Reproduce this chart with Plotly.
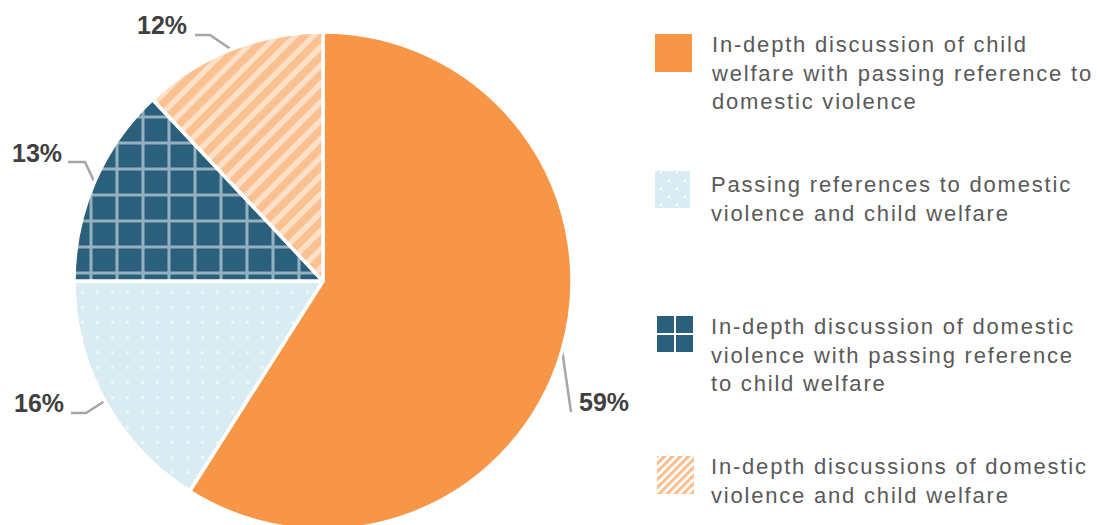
import numpy as np
import plotly.graph_objects as go

# Figure canvas (pixel units for the helper axis that carries legend swatches and leader lines)
W, H = 1097, 562

categories = [
    "In-depth discussion of child welfare with passing reference to domestic violence",
    "Passing references to domestic violence and child welfare",
    "In-depth discussion of domestic violence with passing reference to child welfare",
    "In-depth discussions of domestic violence and child welfare",
]
shares = [59, 16, 13, 12]
legend_lines = [
    ["In-depth discussion of child", "welfare with passing reference to", "domestic violence"],
    ["Passing references to domestic", "violence and child welfare"],
    ["In-depth discussion of domestic", "violence with passing reference", "to child welfare"],
    ["In-depth discussions of domestic", "violence and child welfare"],
]

# Styling
colors = ["#F79646", "#DAECF3", "#2A607C", "#FAC090"]
pattern_shapes = ["", ".", "+", "/"]
pattern_sizes = [10, 15, 26, 13]
pattern_solidity = [0.3, 0.045, 0.22, 0.42]
LEADER = "#A6A6A6"
LABEL_COLOR = "#404040"
TEXT_COLOR = "#595959"
FONT = "Liberation Sans, Arial, sans-serif"

# Pie geometry
CX, CY, R = 323, 281, 249

# Label placement: elbow of leader line, end of leader line, text anchor
label_elbow = [(571, 412), (86, 413), (85, 162), (210, 35)]
label_end = [(571, 412), (71, 413), (68, 162), (195, 35)]
label_text = [(577, 402, "left"), (66, 403, "right"), (64, 153, "right"), (189, 25, "right")]

# Legend placement
swatch_boxes = [(655, 34, 692, 72), (655, 171, 690, 208), (657, 316, 693, 352), (657, 456, 694, 494)]
legend_text_mid = [73, 198.5, 355, 480.5]
LEGEND_X = 709

fig = go.Figure()

fig.add_trace(go.Pie(
    values=shares,
    labels=categories,
    sort=False,
    direction="clockwise",
    rotation=0,
    textinfo="none",
    hoverinfo="label+percent",
    showlegend=False,
    domain=dict(x=[(CX - R) / W, (CX + R) / W], y=[0, 1]),
    marker=dict(
        colors=colors,
        line=dict(color="white", width=3.5),
        pattern=dict(
            shape=pattern_shapes,
            fillmode="overlay",
            bgcolor=colors,
            fgcolor="white",
            size=pattern_sizes,
            solidity=pattern_solidity,
        ),
    ),
))

# Leader lines from the middle of each slice's arc
total = float(sum(shares))
cum = np.concatenate([[0.0], np.cumsum(shares)]) / total
mid_deg = (cum[:-1] + cum[1:]) / 2 * 360.0
annotations = []
for i, v in enumerate(shares):
    th = np.deg2rad(mid_deg[i])
    ax_, ay_ = CX + R * np.sin(th), CY - R * np.cos(th)
    xs = [ax_, label_elbow[i][0], label_end[i][0]]
    ys = [ay_, label_elbow[i][1], label_end[i][1]]
    fig.add_trace(go.Scatter(
        x=xs, y=ys, mode="lines", line=dict(color=LEADER, width=2.5),
        hoverinfo="skip", showlegend=False, xaxis="x", yaxis="y",
    ))

# Legend text (first four annotations)
for lines, ym in zip(legend_lines, legend_text_mid):
    annotations.append(dict(
        x=LEGEND_X, y=ym, xref="x", yref="y", xanchor="left", yanchor="middle",
        text="<br>".join(lines), showarrow=False, align="left",
        font=dict(family=FONT, size=22, color=TEXT_COLOR),
    ))

# Percentage labels
for i, v in enumerate(shares):
    tx, ty, anc = label_text[i]
    annotations.append(dict(
        x=tx, y=ty, xref="x", yref="y", xanchor=anc, yanchor="middle",
        text=f"<b>{v}%</b>", showarrow=False,
        font=dict(family=FONT, size=25, color=LABEL_COLOR),
    ))

# Legend swatches
shapes = []
for i, (x0, y0, x1, y1) in enumerate(swatch_boxes):
    shapes.append(dict(type="rect", xref="x", yref="y", x0=x0, y0=y0, x1=x1, y1=y1,
                       fillcolor=colors[i], line=dict(width=0), layer="above"))
    if pattern_shapes[i] == ".":
        row = 0
        yy = y0 + 2
        while yy < y1 - 1:
            off = 6 if row % 2 == 0 else -2
            xx = x0 + off
            while xx < x1 - 1:
                if xx > x0 + 1:
                    shapes.append(dict(type="rect", xref="x", yref="y",
                                       x0=xx - 0.9, x1=xx + 0.9, y0=yy - 0.9, y1=yy + 0.9,
                                       fillcolor="white", line=dict(width=0), layer="above"))
                xx += 16
            yy += 8
            row += 1
    elif pattern_shapes[i] == "+":
        xm, ymid = (x0 + x1) / 2, (y0 + y1) / 2
        shapes.append(dict(type="line", xref="x", yref="y", x0=xm, x1=xm, y0=y0, y1=y1,
                           line=dict(color="white", width=2), layer="above"))
        shapes.append(dict(type="line", xref="x", yref="y", x0=x0, x1=x1, y0=ymid, y1=ymid,
                           line=dict(color="white", width=2), layer="above"))
    elif pattern_shapes[i] == "/":
        c = x0 + y0 + 4
        while c < x1 + y1:
            xs0 = max(x0, c - y1)
            xs1 = min(x1, c - y0)
            if xs1 - xs0 > 1:
                shapes.append(dict(type="line", xref="x", yref="y",
                                   x0=xs0, y0=c - xs0, x1=xs1, y1=c - xs1,
                                   line=dict(color="white", width=2.5), layer="above"))
            c += 8

fig.update_layout(
    width=W, height=H,
    margin=dict(l=0, r=0, t=0, b=0, pad=0),
    paper_bgcolor="white", plot_bgcolor="white",
    showlegend=False,
    xaxis=dict(range=[0, W], visible=False, fixedrange=True, domain=[0, 1]),
    yaxis=dict(range=[H, 0], visible=False, fixedrange=True, domain=[0, 1]),
    annotations=annotations,
    shapes=shapes,
)

post = (
    "document.documentElement.style.overflow='hidden';"
    "document.body.style.overflow='hidden';"
    "document.body.style.margin='0';"
    "var gd=document.getElementById('{plot_id}');"
    "gd.querySelectorAll('.annotation').forEach(function(a){"
    "var i=+a.getAttribute('data-index');"
    "if(i<4){var t=a.querySelector('.annotation-text');if(t){t.style.letterSpacing='1.8px';}}});"
)

fig.write_html("out.html", post_script=post, config={"displayModeBar": False})
